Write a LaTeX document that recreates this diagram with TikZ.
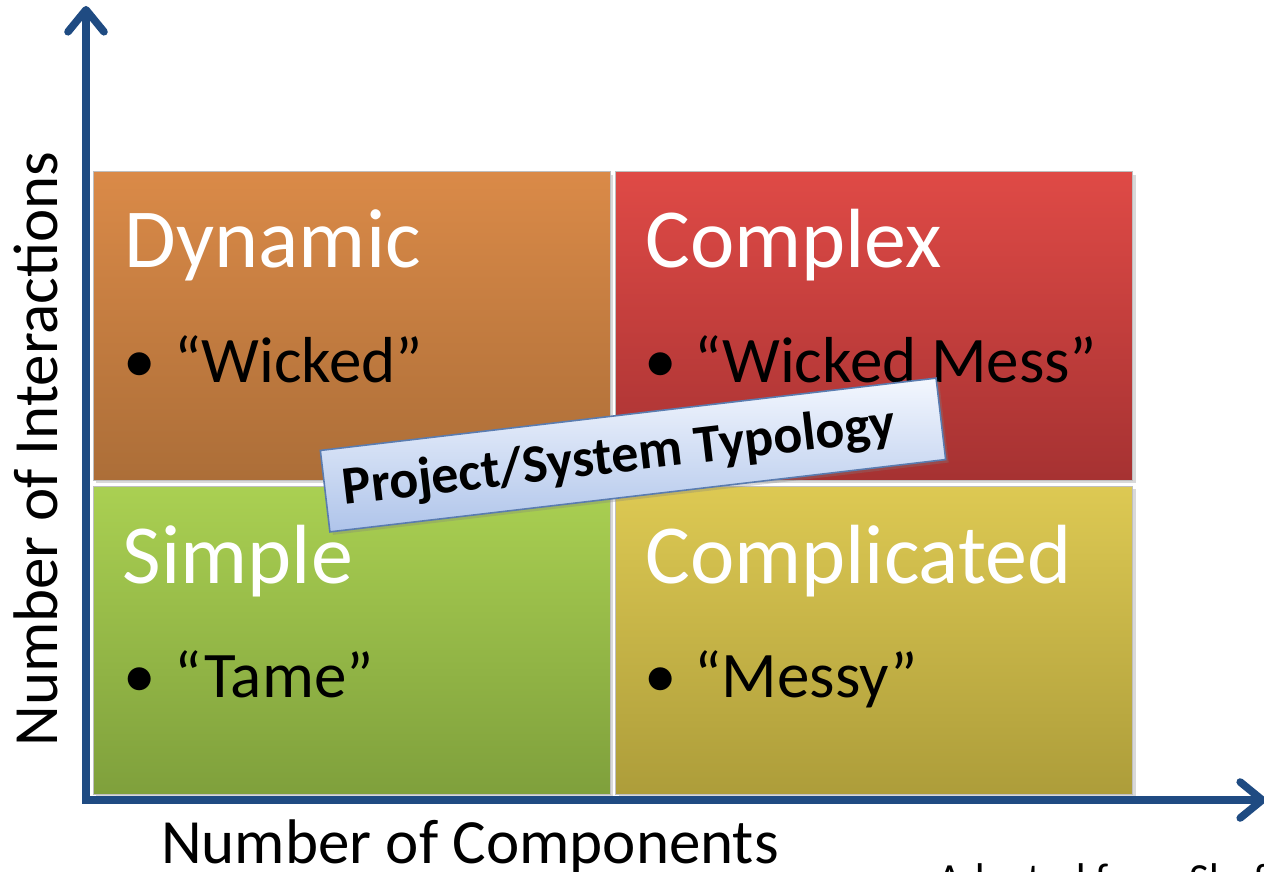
\documentclass[tikz,border=0pt]{standalone}
\usepackage{fontspec}
\setmainfont{Carlito}
\usetikzlibrary{arrows.meta,shadows,calc}
\definecolor{axisblue}{HTML}{1F4B82}
\definecolor{dyntop}{HTML}{DA8A48}
\definecolor{dynbot}{HTML}{AC6E38}
\definecolor{cpxtop}{HTML}{DF4A46}
\definecolor{cpxbot}{HTML}{A63232}
\definecolor{smptop}{HTML}{AAD052}
\definecolor{smpbot}{HTML}{7FA03C}
\definecolor{cpltop}{HTML}{DDC953}
\definecolor{cplbot}{HTML}{AD9D3A}
\definecolor{bantop}{HTML}{F3F7FE}
\definecolor{banbot}{HTML}{AFC4EA}
\definecolor{banedge}{HTML}{5A7CB0}
\begin{document}
\begin{tikzpicture}[x=0.5pt,y=-0.5pt,
	quad/.style={rectangle,inner sep=0pt,minimum width=258.5pt,minimum height=154pt,draw=white!75!black,line width=0.5pt,
		drop shadow={shadow xshift=1.5pt,shadow yshift=-1.5pt,opacity=0.3}},
	title/.style={anchor=base west,inner sep=0pt,text=white,font=\fontsize{42}{42}\selectfont},
	item/.style={anchor=base west,inner sep=0pt,font=\fontsize{32.5}{32.5}\selectfont},
	axlabel/.style={anchor=base,inner sep=0pt,font=\fontsize{31.5}{31.5}\selectfont},
	axis/.style={draw=axisblue,line width=3.8pt,line join=miter,
		{Straight Barb[length=11pt,width=18pt,line cap=round,line join=round]}-{Straight Barb[length=11pt,width=18pt,line cap=round,line join=round]}},
	banner/.style={rectangle,minimum width=310pt,minimum height=41pt,inner sep=0pt,draw=banedge,line width=0.8pt,
		top color=bantop,bottom color=banbot,
		drop shadow={shadow xshift=1.5pt,shadow yshift=-1.5pt,opacity=0.3}},
	bannertext/.style={inner sep=0pt,font=\bfseries\fontsize{27}{27}\selectfont}]
	\useasboundingbox (0,0) rectangle (1264,872);
	\clip (0,0) rectangle (1264,872);

	% quadrants
	\node [quad,top color=dyntop,bottom color=dynbot] (dyn) at (351.5,326) {};
	\node [quad,top color=cpxtop,bottom color=cpxbot] (cpx) at (874,326) {};
	\node [quad,top color=smptop,bottom color=smpbot] (smp) at (351.5,640) {};
	\node [quad,top color=cpltop,bottom color=cplbot] (cpl) at (874,640) {};

	\node [title] (dyntitle) at ($(dyn.north west)+(32,96)$) {Dynamic};
	\node [item] (dynitem) at ($(dyn.north west)+(31,211)$) {•\hspace{9pt}“Wicked”};
	\node [title] (cpxtitle) at ($(cpx.north west)+(30,96)$) {Complex};
	\node [item] (cpxitem) at ($(cpx.north west)+(29,211)$) {•\hspace{9pt}“Wicked Mess”};
	\node [title] (smptitle) at ($(smp.north west)+(30,98)$) {Simple};
	\node [item] (smpitem) at ($(smp.north west)+(31,212)$) {•\hspace{9pt}“Tame”};
	\node [title] (cpltitle) at ($(cpl.north west)+(30,98)$) {Complicated};
	\node [item] (cplitem) at ($(cpl.north west)+(29,212)$) {•\hspace{9pt}“Messy”};

	% axes
	\coordinate (ytip) at (86,6);
	\coordinate (origin) at (86,800);
	\coordinate (xtip) at (1266,800);
	\draw [axis] (ytip) -- (origin) -- (xtip);

	\node [axlabel,rotate=90] (ylab) at (57,449) {Number of Interactions};
	\node [axlabel] (xlab) at (470,863) {Number of Components};
	\node [anchor=base west,inner sep=0pt,font=\fontsize{21.5}{21.5}\selectfont] (credit) at (937,893) {Adapted from Sheffield};

	% label box
	\node [banner,rotate=6.7] (typo) at (633,455) {};
	\node [bannertext,rotate=6.7] (typotext) at ($(typo.center)+(-14,3)$) {Project/System Typology};
\end{tikzpicture}
\end{document}
